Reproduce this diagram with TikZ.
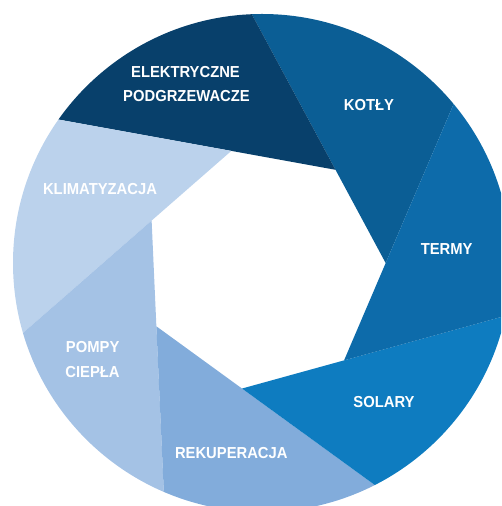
\documentclass[tikz,border=0pt]{standalone}
\usepackage{fontspec}
\setmainfont{Liberation Sans}
\newfontfamily\lblfont{Liberation Sans}[FakeStretch=0.93]
\usetikzlibrary{calc}
\definecolor{cElek}{HTML}{08406B}
\definecolor{cKot}{HTML}{0B5E95}
\definecolor{cTerm}{HTML}{0D6BAA}
\definecolor{cSol}{HTML}{0E7CC0}
\definecolor{cRek}{HTML}{82ACDB}
\definecolor{cPomp}{HTML}{A4C2E5}
\definecolor{cKlim}{HTML}{BBD2EC}
\begin{document}
\begin{tikzpicture}[x=1pt,y=1pt,
  lbl/.style={text=white, font=\lblfont\bfseries\fontsize{15.9}{18}\selectfont, anchor=base, inner sep=0pt}]
\useasboundingbox (0,0) rectangle (501,506);
\clip (0,0) rectangle (501,506);
\coordinate (O) at (262,243);
\coordinate (H) at (263.8,237.5);
\foreach \k in {0,...,8} {
  \coordinate (P\k) at ($(H)+({2.5714+51.4286*(\k-1)}:122)$);
}
\begin{scope}
  \clip (O) circle (249);
  \foreach \k/\c in {1/cKot,2/cElek,3/cKlim,4/cPomp,5/cRek,6/cSol,7/cTerm} {
    \pgfmathtruncatemacro{\kp}{\k+1}
    \pgfmathtruncatemacro{\km}{\k-1}
    \fill[\c] (P\k) -- ($(P\k)!15!(P\kp)$) -- ($(P\km)!15!(P\k)$) -- cycle;
  }
\end{scope}
\node[lbl] (elek1) at (185.5,428.3) {ELEKTRYCZNE};
\node[lbl] (elek2) at (186.5,404.2) {PODGRZEWACZE};
\node[lbl] (kot) at (369,395) {KOTŁY};
\node[lbl] (term) at (446.7,251) {TERMY};
\node[lbl] (sol) at (384,98.7) {SOLARY};
\node[lbl] (rek) at (231.3,47.7) {REKUPERACJA};
\node[lbl] (pomp1) at (92.7,153.7) {POMPY};
\node[lbl] (pomp2) at (92.5,128.7) {CIEPŁA};
\node[lbl] (klim) at (100,311) {KLIMATYZACJA};
\end{tikzpicture}
\end{document}
